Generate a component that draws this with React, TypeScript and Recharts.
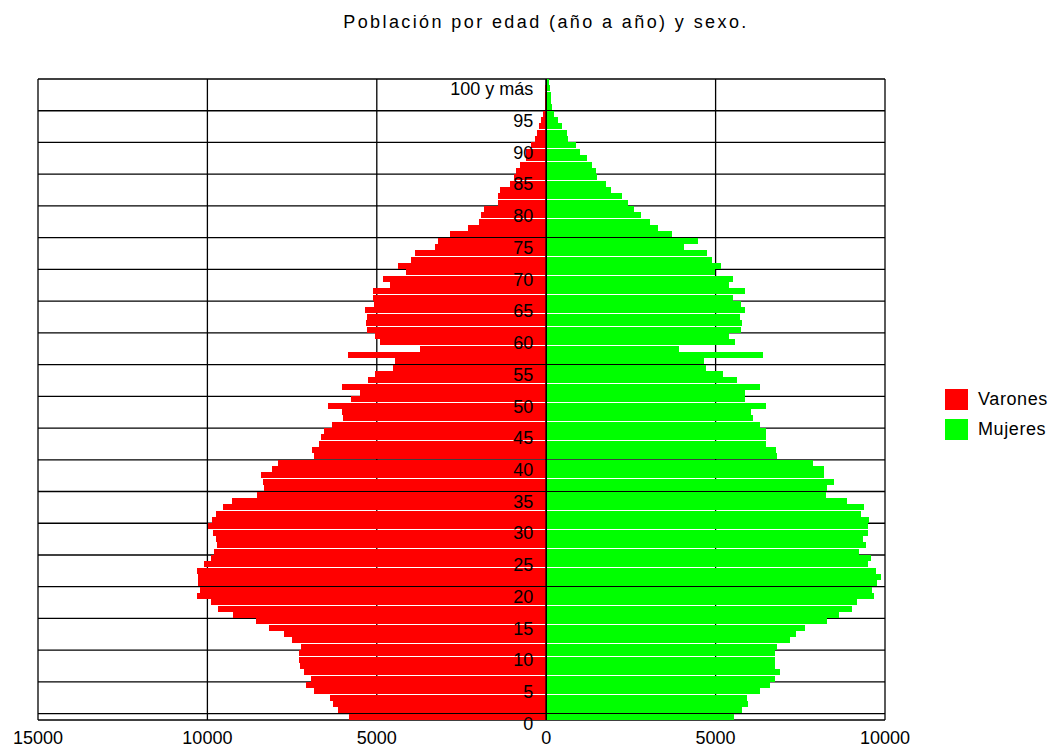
import { Bar, BarChart, CartesianGrid, ReferenceLine, XAxis, YAxis } from "recharts";

// edad 0 .. 100 ("100 y más")
const ages = [
  0, 1, 2, 3, 4, 5, 6, 7, 8, 9, 10, 11, 12, 13, 14, 15, 16, 17, 18, 19, 20, 21, 22, 23, 24, 25, 26, 27, 28, 29, 30,
  31, 32, 33, 34, 35, 36, 37, 38, 39, 40, 41, 42, 43, 44, 45, 46, 47, 48, 49, 50, 51, 52, 53, 54, 55, 56, 57, 58, 59,
  60, 61, 62, 63, 64, 65, 66, 67, 68, 69, 70, 71, 72, 73, 74, 75, 76, 77, 78, 79, 80, 81, 82, 83, 84, 85, 86, 87, 88,
  89, 90, 91, 92, 93, 94, 95, 96, 97, 98, 99, 100,
];

const varones = [
  5810, 6140, 6300, 6380, 6850, 7080, 6950, 7150, 7280, 7290, // 0-9
  7290, 7250, 7490, 7740, 8180, 8570, 9240, 9680, 9890, 10300, // 10-19
  10230, 10270, 10270, 10300, 10100, 9900, 9800, 9720, 9750, 9820, // 20-29
  9970, 9860, 9750, 9550, 9270, 8530, 8320, 8370, 8410, 8080, // 30-39
  7930, 6860, 6910, 6720, 6650, 6560, 6330, 6000, 6040, 6440, // 40-49
  5750, 5510, 6040, 5260, 5040, 4510, 4460, 5840, 3730, 4900, // 50-59
  5050, 5280, 5310, 5280, 5350, 5080, 5110, 5110, 4610, 4810, // 60-69
  4140, 4370, 3980, 3880, 3280, 3180, 2850, 2320, 1990, 1920, // 70-79
  1850, 1420, 1410, 1370, 1070, 960, 900, 770, 600, 590, // 80-89
  450, 320, 280, 200, 160, 90, 45, 40, 30, 25, // 90-99
  20, // 100 y más
];

const mujeres = [
  5530, 5770, 5970, 5940, 6310, 6610, 6760, 6900, 6760, 6760, // 0-9
  6760, 6820, 7200, 7360, 7650, 8300, 8650, 9040, 9180, 9680, // 10-19
  9610, 9770, 9870, 9740, 9490, 9580, 9240, 9440, 9340, 9490, // 20-29
  9490, 9540, 9280, 9380, 8890, 8260, 8300, 8500, 8200, 8200, // 30-39
  7870, 6820, 6790, 6500, 6500, 6500, 6310, 6100, 6040, 6500, // 40-49
  5860, 5860, 6310, 5640, 5210, 4710, 4650, 6390, 3930, 5560, // 50-59
  5410, 5750, 5780, 5710, 5880, 5750, 5510, 5880, 5410, 5510, // 60-69
  4990, 5160, 4880, 4760, 4080, 4480, 3720, 3300, 3050, 2790, // 70-79
  2600, 2420, 2250, 1900, 1770, 1500, 1480, 1350, 1200, 1000, // 80-89
  880, 640, 620, 460, 340, 240, 170, 140, 130, 100, // 90-99
  80, // 100 y más
];

const xTicks = [-15000, -10000, -5000, 0, 5000, 10000];
// una línea horizontal en el borde superior de cada edad múltiplo de 5
const gridAges = [0, 5, 10, 15, 20, 25, 30, 35, 40, 45, 50, 55, 60, 65, 70, 75, 80, 85, 90, 95];

const series = [
  { key: "varones", name: "Varones", color: "#ff0000" },
  { key: "mujeres", name: "Mujeres", color: "#00ff00" },
];

const CHART_W = 1053;
const CHART_H = 749;
const margin = { top: 79, right: 168, bottom: 0, left: 37 };
const Y_AXIS_W = 1;
const X_MIN = -15000;
const X_MAX = 10000;
const plotLeft = margin.left + Y_AXIS_W;
const plotW = CHART_W - plotLeft - margin.right;
const zeroX = plotLeft + (plotW * (0 - X_MIN)) / (X_MAX - X_MIN);

const font = '"Liberation Sans", Arial, sans-serif';

const data = ages.map((age, i) => ({
  age,
  varones: -varones[i],
  mujeres: mujeres[i],
}));

function ageLabel(age: number) {
  return age === 100 ? "100 y más" : String(age);
}

function renderAgeTick(props: any) {
  const { y, payload } = props;
  return (
    <text x={zeroX - 13} y={Number(y) + 13} textAnchor="end" fontSize={18} fill="#000">
      {ageLabel(Number(payload.value))}
    </text>
  );
}

function horizontalLines({ yAxis, offset }: any) {
  const top = offset.top;
  const bottom = offset.top + offset.height;
  const scale = yAxis?.scale;
  const edges = gridAges.map((a) =>
    typeof scale === "function" ? scale(a) : top + (offset.height * (ages.length - 1 - a)) / ages.length
  );
  return [top, ...edges, bottom];
}

export default function App() {
  return (
    <div style={{ position: "absolute", left: 0, top: 0, width: CHART_W, height: CHART_H, fontFamily: font, background: "#fff" }}>
      <style>{`.recharts-bar-rectangle path, .recharts-rectangle { shape-rendering: crispEdges; }`}</style>
      <div
        style={{
          position: "absolute",
          top: 12,
          left: 0,
          width: 1092,
          textAlign: "center",
          fontSize: 18,
          letterSpacing: 2.4,
          color: "#000",
        }}
      >
        Población por edad (año a año) y sexo.
      </div>

      <BarChart
        width={CHART_W}
        height={CHART_H}
        data={data}
        layout="vertical"
        stackOffset="sign"
        barCategoryGap={0}
        margin={margin}
      >
        <CartesianGrid stroke="#000" strokeWidth={1.3} horizontalCoordinatesGenerator={horizontalLines} />
        <XAxis
          type="number"
          domain={[X_MIN, X_MAX]}
          ticks={xTicks}
          allowDataOverflow
          tickFormatter={(v) => String(Math.abs(v))}
          axisLine={false}
          tickLine={false}
          height={29}
          tick={{ fill: "#000", fontSize: 18, dy: 3 }}
        />
        <YAxis
          type="category"
          dataKey="age"
          reversed
          width={Y_AXIS_W}
          interval={4}
          axisLine={false}
          tickLine={false}
          tick={renderAgeTick}
        />
        {series.map((s) => (
          <Bar key={s.key} dataKey={s.key} name={s.name} stackId="p" fill={s.color} isAnimationActive={false} />
        ))}
        <ReferenceLine x={0} stroke="#000" strokeWidth={1.6} />
      </BarChart>

      <div style={{ position: "absolute", left: 945, top: 389, fontSize: 18, letterSpacing: 0.6, color: "#000" }}>
        {series.map((s) => (
          <div key={s.key} style={{ display: "flex", alignItems: "center", height: 21, marginBottom: 9 }}>
            <span style={{ display: "inline-block", width: 23, height: 21, background: s.color, marginRight: 10 }} />
            <span>{s.name}</span>
          </div>
        ))}
      </div>
    </div>
  );
}
